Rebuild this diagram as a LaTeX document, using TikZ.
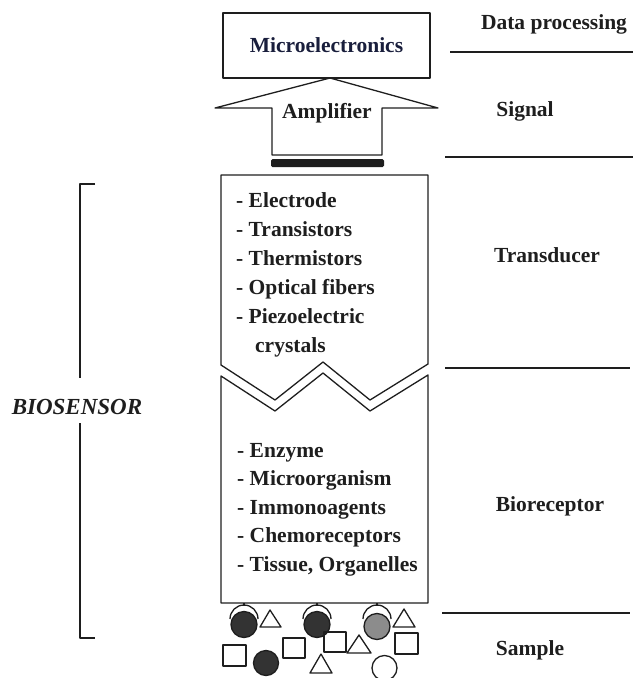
\documentclass[tikz,border=0pt]{standalone}
\usepackage{fontspec}
\setmainfont{Liberation Serif}
\definecolor{ink}{RGB}{30,30,30}
\definecolor{navy}{RGB}{25,30,60}
\begin{document}
\begin{tikzpicture}[x=1pt,y=-1pt,line join=round,
  lbl/.style={font=\fontsize{21.5}{25}\selectfont\bfseries,inner sep=0pt,text=ink},
  item/.style={lbl,anchor=base west},
  shp/.style={draw=ink,line width=1.3pt},
  rule/.style={draw=ink,line width=1.1pt},
  smp/.style={draw=ink,line width=1.3pt}]
\useasboundingbox (0,0) rectangle (633,678);

% Microelectronics box
\node[shp,lbl,text=navy,minimum width=207pt,minimum height=65pt,inner sep=0pt] (micro) at (326.5,45.5) {Microelectronics};

% Amplifier arrow
\draw[shp] (330,78) -- (438,108) -- (382,108) -- (382,155) -- (272,155) -- (272,108) -- (215,108) -- cycle;
\node[lbl] (amp) at (327,113) {Amplifier};
\fill[ink,rounded corners=1.5pt] (271,159) rectangle (384,167);

% Transducer
\draw[shp] (221,175) -- (428,175) -- (428,364) -- (370,400) -- (323,362) -- (275,400) -- (221,365) -- cycle;
\node[item] (t1) at (236,207) {- Electrode};
\node[item] (t2) at (236,236) {- Transistors};
\node[item] (t3) at (236,265) {- Thermistors};
\node[item] (t4) at (236,294) {- Optical fibers};
\node[item] (t5) at (236,323) {- Piezoelectric};
\node[item] (t6) at (255,352) {crystals};

% Bioreceptor
\draw[shp] (221,376) -- (275,411) -- (323,373) -- (370,411) -- (428,375) -- (428,603) -- (221,603) -- cycle;
\node[item] (b1) at (237,457) {- Enzyme};
\node[item] (b2) at (237,485.5) {- Microorganism};
\node[item] (b3) at (237,514) {- Immonoagents};
\node[item] (b4) at (237,542.5) {- Chemoreceptors};
\node[item] (b5) at (237,571) {- Tissue, Organelles};

% Sample: receptors
\foreach \x/\cy/\f [count=\i] in {244/624.5/black!80, 317/624.5/black!80, 377/626.5/black!45}{
  \draw[smp] (\x,603) -- (\x,606);
  \draw[smp] (\x-14pt,619) arc[start angle=180,end angle=0,radius=14pt];
  \filldraw[smp,fill=\f] (\x,\cy) circle[radius=13];
}
% squares
\draw[smp] (223,645) rectangle (246,666);
\draw[smp] (283,638) rectangle (305,658);
\draw[smp] (324,632) rectangle (346,652);
\draw[smp] (395,633) rectangle (418,654);
% triangles
\draw[smp] (270,610) -- (281,627) -- (260,627) -- cycle;
\draw[smp] (321,654) -- (332,673) -- (310,673) -- cycle;
\draw[smp] (359,635) -- (371,653) -- (347,653) -- cycle;
\draw[smp] (404,609) -- (415,627) -- (393,627) -- cycle;
% loose circles
\filldraw[smp,fill=black!80] (266,663) circle[radius=12.5];
\draw[smp] (384.5,668) circle[radius=12.5];

% Bracket and BIOSENSOR
\draw[draw=ink,line width=1.6pt] (95,184) -- (80,184) -- (80,378);
\draw[draw=ink,line width=1.6pt] (80,423) -- (80,638) -- (95,638);
\node[lbl,font=\fontsize{23}{25}\selectfont\bfseries\itshape] (bio) at (77,407) {BIOSENSOR};

% Right labels and rules
\node[lbl] (dp) at (554,24) {Data processing};
\node[lbl] (sig) at (525,111) {Signal};
\node[lbl] (tr) at (547,255) {Transducer};
\node[lbl] (br) at (550,506) {Bioreceptor};
\node[lbl] (sa) at (530,650) {Sample};
\draw[rule] (450,52) -- (633,52);
\draw[rule] (445,157) -- (633,157);
\draw[rule] (445,368) -- (630,368);
\draw[rule] (442,613) -- (630,613);
\end{tikzpicture}
\end{document}
